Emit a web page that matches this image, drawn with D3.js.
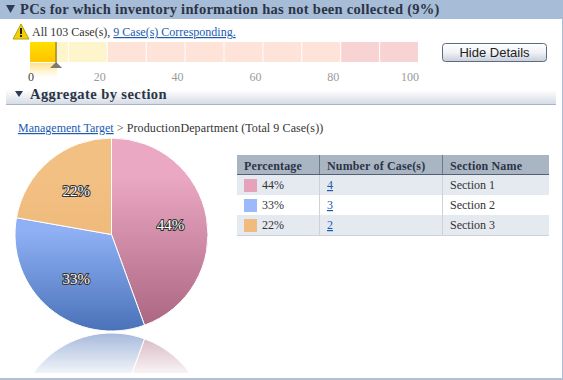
<!DOCTYPE html>
<html><head><meta charset="utf-8">
<script src="https://cdn.jsdelivr.net/npm/d3@7"></script>
<style>html,body{margin:0;padding:0;background:#fff}svg{display:block}text{font-family:"Liberation Serif",serif;fill:#333}</style>
</head><body><div id="c"></div>
<script>
const sections=["Section 1","Section 2","Section 3"];
const caseCounts=[4,3,2];
const percentLabels=["44%","33%","22%"];
const sliceTop=["#eba8c2","#8fb0f5","#f3c083"];
const sliceBottom=["#a9647f","#4a72b8","#e8b070"];
const swatches=["#e6a2bb","#9cbafa","#f0bb7c"];
const tableHead=["Percentage","Number of Case(s)","Section Name"];
const barTicks=[0,20,40,60,80,100];
const segmentStarts=[0,10,20,30,40,50,60,70,80,90];
const segmentFill=["#fff5cc","#fff5cc","#fde3d8","#fde3d8","#fde3d8","#fde3d8","#fde3d8","#fde3d8","#f7d3d3","#f7d3d3"];
const markerValue=6.7;

const svg=d3.select("#c").append("svg").attr("width",563).attr("height",380);
const defs=svg.append("defs");
function grad(id,x1,y1,x2,y2,stops,user){
  const g=defs.append("linearGradient").attr("id",id).attr("x1",x1).attr("y1",y1).attr("x2",x2).attr("y2",y2);
  if(user)g.attr("gradientUnits","userSpaceOnUse");
  stops.forEach(s=>g.append("stop").attr("offset",s[0]).attr("stop-color",s[1]).attr("stop-opacity",s[2]==null?1:s[2]));
}
const cx=111.5,cy=234.5,R=96.5,mirrorY=332;
const sliceStops=[.2,.48,.2];
caseCounts.forEach((d,i)=>grad("s"+i,0,-R,0,R,[[sliceStops[i],sliceTop[i]],[1,sliceBottom[i]]],true));
grad("sec",0,0,0,1,[[0,"#ffffff"],[1,"#d6dce6"]]);
grad("yel",0,0,0,1,[[0,"#ffe000"],[1,"#ffc400"]]);
grad("yelR",0,0,0,1,[[0,"#ffd65c",.75],[1,"#ffe9a0",.1]]);
grad("btn",0,0,0,1,[[0,"#ffffff"],[.5,"#f0f2f6"],[1,"#c6cedb"]]);
grad("fade",0,332,0,373,[[0,"#fff",.5],[1,"#fff",.08]],true);
defs.append("mask").attr("id","fm").attr("maskUnits","userSpaceOnUse").attr("x",0).attr("y",330).attr("width",300).attr("height",43)
  .append("rect").attr("x",0).attr("y",330).attr("width",300).attr("height",43).attr("fill","url(#fade)");

// frame
svg.append("rect").attr("width",563).attr("height",19).attr("fill","#a7bcd6");
svg.append("rect").attr("x",562).attr("y",19).attr("width",1).attr("height",361).attr("fill","#a7bcd6");
svg.append("rect").attr("x",0).attr("y",378).attr("width",563).attr("height",2).attr("fill","#b3c1d6");
const tri=(x,y,w,h)=>`M${x},${y}L${x+w},${y}L${x+w/2},${y+h}Z`;
svg.append("path").attr("d",tri(6,5,9,8)).attr("fill","#2f3b52");
svg.append("text").attr("x",20).attr("y",13.5).attr("font-size",14.5).attr("font-weight","bold").style("fill","#2b3446").style("letter-spacing","0.28px")
  .text("PCs for which inventory information has not been collected (9%)");

// warning
svg.append("path").attr("d","M21,24L29,39L13,39Z").attr("fill","#f5d000").attr("stroke","#b8a020").attr("stroke-width",1).attr("stroke-linejoin","round");
svg.append("rect").attr("x",20).attr("y",28).attr("width",2).attr("height",6).attr("fill","#222");
svg.append("rect").attr("x",20).attr("y",35).attr("width",2).attr("height",2).attr("fill","#222");
const info=svg.append("text").attr("x",32).attr("y",36).attr("font-size",12);
info.append("tspan").text("All 103 Case(s), ");
info.append("tspan").text("9 Case(s) Corresponding.").style("fill","#1a5bb0").attr("text-decoration","underline");

// range bar
const xBar=d3.scaleLinear().domain([0,100]).range([30,419]);
svg.append("g").selectAll("rect").data(segmentStarts).join("rect")
  .attr("x",d=>xBar(d)).attr("y",42).attr("width",d=>xBar(d+10)-xBar(d)-1).attr("height",20)
  .attr("fill",(d,i)=>segmentFill[i]);
svg.append("rect").attr("x",xBar(0)).attr("y",42).attr("width",xBar(markerValue)-xBar(0)).attr("height",20).attr("fill","url(#yel)");
svg.append("rect").attr("x",xBar(0)).attr("y",63).attr("width",xBar(markerValue)-xBar(0)+1).attr("height",14).attr("fill","url(#yelR)");
svg.append("rect").attr("x",xBar(markerValue)-.5).attr("y",42).attr("width",1).attr("height",21).attr("fill","#6b5c20");
svg.append("path").attr("d",`M${xBar(markerValue)},62L${xBar(markerValue)+6},68L${xBar(markerValue)-6},68Z`).attr("fill","#7d7a70");
svg.selectAll("text.t").data(barTicks).join("text").attr("class","t")
  .attr("x",d=>d===0?34:xBar(d)-(d===100?0:2)).attr("y",81).attr("text-anchor","end").attr("font-size",12)
  .style("fill",d=>d===0?"#444":"#9a9a9a").text(d=>d);

// button
svg.append("rect").attr("x",442.5).attr("y",43.5).attr("width",104).attr("height",18).attr("rx",3).attr("fill","url(#btn)").attr("stroke","#5d6a80");
svg.append("text").attr("x",494.5).attr("y",57).attr("text-anchor","middle").style("font-family","'Liberation Sans',sans-serif").attr("font-size",13).style("fill","#222").text("Hide Details");

// section bar
svg.append("rect").attr("x",6).attr("y",90).attr("width",550).attr("height",14).attr("fill","url(#sec)");
svg.append("rect").attr("x",6).attr("y",104).attr("width",550).attr("height",1).attr("fill","#a9b5c6");
svg.append("path").attr("d",tri(15,91,8,6)).attr("fill","#2f3b52");
svg.append("text").attr("x",30).attr("y",99).attr("font-size",14.5).attr("font-weight","bold").style("fill","#2b3446").style("letter-spacing","0.42px").text("Aggregate by section");

const crumb=svg.append("text").attr("x",18).attr("y",132).attr("font-size",12);
crumb.append("tspan").text("Management Target").style("fill","#1a5bb0").attr("text-decoration","underline");
crumb.append("tspan").text(" > ProductionDepartment (Total 9 Case(s))").style("letter-spacing","0.1px");

// pie
const pie=d3.pie().sort(null).value(d=>d)(caseCounts);
const arc=d3.arc().innerRadius(0).outerRadius(R);
const reflect=svg.append("g").attr("mask","url(#fm)").append("g").attr("transform",`translate(${cx},${2*mirrorY-cy}) scale(1,-1)`);
reflect.selectAll("path").data(pie).join("path").attr("d",arc).attr("fill",(d,i)=>sliceBottom[i]).attr("stroke","#fff").attr("stroke-width",1);
svg.append("g").attr("transform",`translate(${cx},${cy})`).selectAll("path").data(pie).join("path").attr("d",arc)
  .attr("fill",(d,i)=>`url(#s${i})`).attr("stroke","#fff").attr("stroke-width",1);
const labelArc=d3.arc().innerRadius(R*.6).outerRadius(R*.6);
svg.selectAll("text.pl").data(pie).join("text").attr("class","pl")
  .attr("transform",d=>{const c=labelArc.centroid(d);return `translate(${cx+c[0]+2},${cy+c[1]+5.5})`;})
  .attr("text-anchor","middle").attr("font-size",15).attr("stroke","#333").attr("stroke-width",2).attr("paint-order","stroke").style("fill","#fff").text((d,i)=>percentLabels[i]);

// table
const colX=[237,319,442,549];
const tg=svg.append("g");
tg.append("rect").attr("x",237).attr("y",155).attr("width",312).attr("height",19).attr("fill","#aab5c3");
tg.append("rect").attr("x",237).attr("y",174).attr("width",312).attr("height",1).attr("fill","#555f70");
tg.selectAll("text.h").data(tableHead).join("text").attr("class","h").attr("x",(d,i)=>colX[i]+(i==0?7:8)).attr("y",170).attr("font-size",12).attr("font-weight","bold").style("fill","#2b3446").style("letter-spacing","0.15px").text(d=>d);
const rows=tg.selectAll("g.r").data(sections).join("g").attr("class","r").attr("transform",(d,i)=>`translate(0,${175+i*20})`);
rows.append("rect").attr("x",237).attr("width",312).attr("height",20).attr("fill",(d,i)=>i%2?"#fff":"#e5e9f0");
rows.append("rect").attr("x",244).attr("y",4).attr("width",13).attr("height",13).attr("fill",(d,i)=>swatches[i]);
rows.append("text").attr("x",262).attr("y",14).attr("font-size",12).text((d,i)=>percentLabels[i]);
rows.append("text").attr("x",327).attr("y",14).attr("font-size",12).style("fill","#1a5bb0").attr("text-decoration","underline").text((d,i)=>caseCounts[i]);
rows.append("text").attr("x",450).attr("y",14).attr("font-size",12).text(d=>d);
tg.append("rect").attr("x",237).attr("y",235).attr("width",312).attr("height",1).attr("fill","#cfd3d9");
[319,442].forEach(x=>{
  tg.append("rect").attr("x",x).attr("y",155).attr("width",1).attr("height",19).attr("fill","#6e7a8c");
  tg.append("rect").attr("x",x).attr("y",175).attr("width",1).attr("height",60).attr("fill","#cfd3d9");
});
</script></body></html>
